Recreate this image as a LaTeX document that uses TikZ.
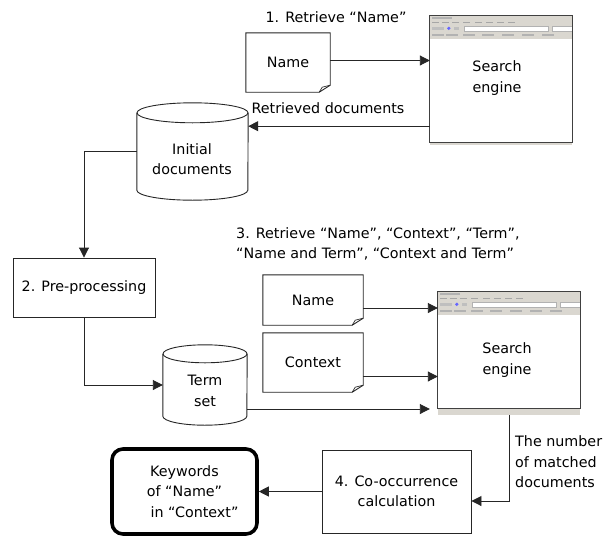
\documentclass[tikz,border=0pt]{standalone}
\usepackage{fontspec}
\setmainfont{DejaVu Sans}
\usetikzlibrary{arrows.meta,calc}
\definecolor{barc}{RGB}{218,215,208}
\tikzset{
  txt/.style={font=\fontsize{14.3}{20.5}\selectfont, align=center, inner sep=0pt},
  ln/.style={draw=black!85, line width=0.9pt},
  arr/.style={ln, -{Triangle[length=10pt,width=10pt]}},
  shapebox/.style={inner sep=0pt, txt},
  rectbox/.style={shapebox, ln},
  frame/.style={draw=black!75, line width=1.3pt},
}
\newcommand\docoutline[1]{%
  \draw[ln] (#1.north west) -- (#1.north east) -- ([yshift=7pt]#1.south east) -- ([xshift=-11pt]#1.south east) -- (#1.south west) -- cycle;
  \draw[ln, line width=0.7pt] ([xshift=-11pt]#1.south east) -- ([xshift=-8pt,yshift=5pt]#1.south east) -- ([yshift=7pt]#1.south east);}
\newcommand\cyl[3]{%
  \draw[ln] ($(#1.north)+(0,#3)$) ellipse [x radius=#2pt, y radius=#3pt];
  \draw[ln] ($(#1.north west)+(0,#3)$) -- ($(#1.south west)+(0,-#3)$) arc[start angle=180, end angle=360, x radius=#2pt, y radius=#3pt] -- ($(#1.north east)+(0,#3)$);}
\newcommand\browser[2]{%
  \fill[barc] (#1.north west) rectangle ($(#1.north east)+(0,23)$);
  \fill[barc] (#1.south west) rectangle ($(#1.south east)+(0,#2)$);
  \begin{scope}[shift={(#1.north west)}]
    \fill[black!30] (2,1.5) rectangle (22,3);
    \foreach \q in {2,12,22,33,45,56,67,78} \fill[black!35] (\q,6) rectangle (\q+7,7.3);
    \fill[black!25] (2,11) rectangle (14,14);
    \fill[blue!60] (19,12.5) circle (1.8pt);
    \fill[black!25] (24,11) rectangle (29,14);
    \filldraw[fill=white, draw=black!30, line width=0.4pt] (34,10.5) rectangle (118,15);
    \filldraw[fill=white, draw=black!30, line width=0.4pt] (122,10.5) rectangle (142,15);
    \foreach \q in {2,16,33,52,72,92,112} \fill[black!30] (\q,18.5) rectangle (\q+12,19.8);
  \end{scope}
  \draw[frame] (#1.north west) rectangle (#1.south east);}
\begin{document}
\begin{tikzpicture}[x=1pt, y=-1pt]
\useasboundingbox (0,0) rectangle (605,536);
\fill[white] (0,0) rectangle (605,536);

% step 1
\node[txt] (lab1) at (336,17) {1. Retrieve “Name”};
\node[shapebox, minimum width=84pt, minimum height=59pt] (name1) at (288,62.5) {Name};
\docoutline{name1}
\node[shapebox, minimum width=142pt, minimum height=126pt] (se1) at (501,79) {};
\browser{se1}{3}
\node[txt] (se1t) at (497,78) {Search\\engine};
\draw[arr] ($(name1.east)+(0,-2)$) -- ($(se1.west |- name1.east)+(0,-2)$);

\node[shapebox, minimum width=111pt, minimum height=97pt] (init) at (192.5,151.5) {};
\cyl{init}{55.5}{10}
\node[txt] (initt) at (192,159) {Initial\\documents};
\coordinate (rd) at ($(se1.south west)+(0,-16)$);
\draw[arr] (rd) -- (init.east |- rd);
\node[txt] (lab2) at (328,108) {Retrieved documents};

% step 2
\node[rectbox, minimum width=142pt, minimum height=59pt] (pre) at (84,287.5) {2. Pre-processing};
\draw[arr] (init.west) -| (pre.north);

\node[shapebox, minimum width=84pt, minimum height=80pt] (term) at (205,385) {};
\cyl{term}{42}{9}
\node[txt] (termt) at (205,391) {Term\\set};
\draw[arr] (pre.south) |- (term.west);

% step 3
\node[txt, align=left, anchor=west] (lab3) at (236,244) {3. Retrieve “Name”, “Context”, “Term”,\\“Name and Term”, “Context and Term”};
\node[shapebox, minimum width=100pt, minimum height=50pt] (name2) at (313,300) {Name};
\docoutline{name2}
\node[shapebox, minimum width=100pt, minimum height=59pt] (ctx) at (313,362.5) {Context};
\docoutline{ctx}
\node[shapebox, minimum width=142pt, minimum height=116pt] (se2) at (509,350) {};
\browser{se2}{7}
\node[txt] (se2t) at (507,360) {Search\\engine};
\coordinate (n2) at ($(name2.east)+(0,8)$);
\draw[arr] (n2) -- (se2.west |- n2);
\coordinate (c2) at ($(ctx.east)+(0,14)$);
\draw[arr] (c2) -- (se2.west |- c2);
\coordinate (t2) at ($(term.east)+(0,24)$);
\draw[arr] (t2) -- ($(se2.west |- t2)+(-8,0)$);

% step 4
\node[rectbox, minimum width=149pt, minimum height=83pt] (cooc) at (396.5,491.5) {4. Co-occurrence\\calculation};
\node[shapebox, draw=black, line width=3.6pt, rounded corners=11pt, minimum width=145pt, minimum height=85pt] (kw) at (184.5,491.5) {Keywords\\of “Name”\\\hspace*{20pt}in “Context”};
\coordinate (c4) at ($(cooc.east)+(0,9.5)$);
\draw[arr] ($(se2.south)+(0,7)$) |- (c4);
\node[txt, align=left, anchor=west] (lab4) at (515,462) {The number\\of matched\\documents};
\draw[arr] (cooc.west) -- (kw.east);
\end{tikzpicture}
\end{document}
